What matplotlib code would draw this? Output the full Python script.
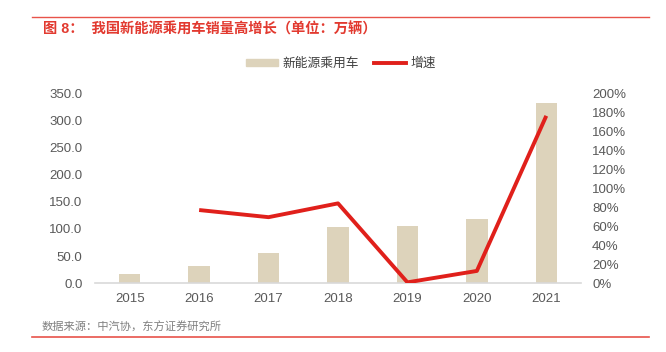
import matplotlib
matplotlib.use("Agg")
import matplotlib.pyplot as plt
from matplotlib.lines import Line2D
from matplotlib.patches import Patch

plt.rcParams['font.family'] = ['Liberation Sans', 'Noto Sans CJK SC', 'DejaVu Sans']

years = ['2015', '2016', '2017', '2018', '2019', '2020', '2021']
sales = [18.0, 32.0, 55.0, 104.0, 105.0, 119.0, 331.0]
growth_years = ['2016', '2017', '2018', '2019', '2020', '2021']
growth = [0.77, 0.695, 0.84, 0.01, 0.13, 1.76]

left_ticks = [0, 50, 100, 150, 200, 250, 300, 350]
right_ticks = [i / 10 for i in range(0, 21, 2)]

bar_color = '#DDD3BB'
line_color = '#E0201B'
tick_color = '#595959'

fig = plt.figure(figsize=(6.66, 3.52), dpi=100)
ax = fig.add_axes([95 / 666, 1 - 283.3 / 352, 486 / 666, (283.3 - 93) / 352])
x = list(range(len(years)))
ax.bar(x, sales, width=0.31, color=bar_color, zorder=2)
ax.set_xlim(-0.5, len(years) - 0.5)
ax.set_ylim(0, 350)
ax.set_yticks(left_ticks)
ax.set_yticklabels([f'{v:.1f}' for v in left_ticks])
ax.set_xticks(x)
ax.set_xticklabels(years)
for s in ['top', 'right', 'left']:
    ax.spines[s].set_visible(False)
ax.spines['bottom'].set_color('#D9D9D9')
ax.spines['bottom'].set_linewidth(1.2)
ax.tick_params(axis='both', length=0, colors=tick_color, labelsize=9.5)
ax.tick_params(axis='y', pad=9)
ax.tick_params(axis='x', pad=7)

ax2 = ax.twinx()
gx = [years.index(y) for y in growth_years]
ax2.plot(gx, growth, color=line_color, linewidth=2.8, zorder=3, solid_capstyle='butt')
ax2.set_ylim(0, 2.0)
ax2.set_yticks(right_ticks)
ax2.set_yticklabels([f'{int(round(v * 100))}%' for v in right_ticks])
for s in ['top', 'right', 'left', 'bottom']:
    ax2.spines[s].set_visible(False)
ax2.tick_params(axis='y', length=0, colors=tick_color, labelsize=9.5, pad=8)

handles = [Patch(color=bar_color), Line2D([0], [0], color=line_color, linewidth=2.8)]
fig.legend(handles, ['新能源乘用车', '增速'], loc='center', bbox_to_anchor=(341 / 666, 1 - 63.5 / 352),
           ncol=2, frameon=False, fontsize=9.2, handlelength=2.5, handleheight=0.5,
           columnspacing=1.2, handletextpad=0.35, labelcolor='#404040',
           borderaxespad=0, borderpad=0)

# header and footer decorations
fig.add_artist(Line2D([32 / 666, 649 / 666], [1 - 16.7 / 352, 1 - 16.7 / 352], color='#E8534A', linewidth=1.0))
fig.add_artist(Line2D([32 / 666, 649 / 666], [1 - 336.7 / 352, 1 - 336.7 / 352], color='#E8534A', linewidth=1.2))
fig.text(43 / 666, 1 - 29 / 352, '图 8：  我国新能源乘用车销量高增长（单位：万辆）', color='#E23A30',
         fontsize=10.3, fontweight='bold', va='center', ha='left')
fig.text(42 / 666, 1 - 327 / 352, '数据来源：中汽协，东方证券研究所', color='#808080',
         fontsize=8.1, va='center', ha='left')

fig.savefig('out.png', dpi=100)
